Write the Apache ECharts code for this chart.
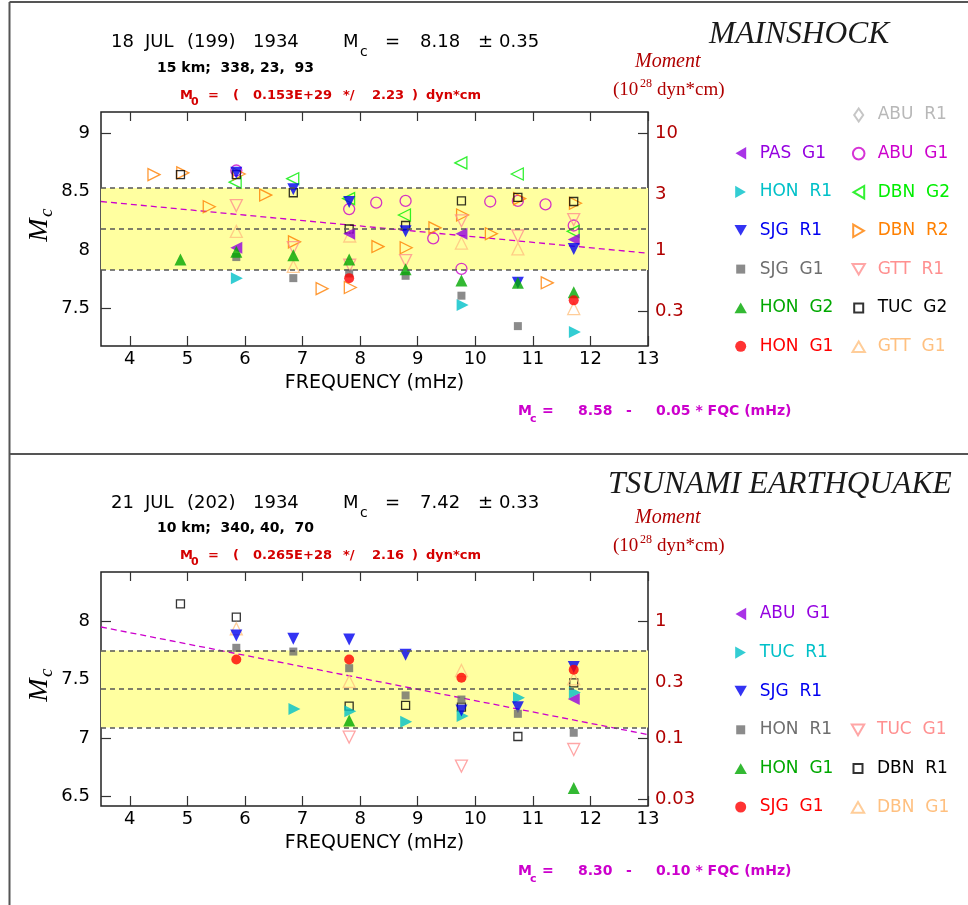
<!DOCTYPE html>
<html><head><meta charset="utf-8">
<script src="https://cdn.jsdelivr.net/npm/echarts@6/dist/echarts.min.js"></script>
<style>html,body{margin:0;padding:0;background:#fff}#c{width:968px;height:905px}</style>
</head><body><div id="c"></div>
<script>
// ---------------- DATA ----------------
const freqTicks = [4, 5, 6, 7, 8, 9, 10, 11, 12, 13];
const freqRange = [3.5, 13];

// Panel 1 : mainshock
const mainMcRange = [7.18, 9.18];
const mainMcTicks = [7.5, 8, 8.5, 9];
const mainMomentTicks = [10, 3, 1, 0.3];
const mainMomentLabels = ['10', '3', '1', '0.3'];
const mainMc = 8.18, mainSigma = 0.35;
const mainFitFreq = [3.5, 13];
const mainFitMc = [8.415, 7.973];

const main_ABU_R1 = [];
const main_PAS_G1 = [[5.85, 8.02], [7.81, 8.14], [9.76, 8.14], [11.71, 8.09]];
const main_HON_R1 = [[5.86, 7.76], [9.78, 7.53], [11.73, 7.30]];
const main_SJG_R1 = [[5.85, 8.66], [6.84, 8.52], [7.81, 8.41], [8.79, 8.16], [10.74, 7.72], [11.71, 8.01]];
const main_SJG_G1 = [[5.85, 7.94], [6.84, 7.76], [7.81, 7.80], [8.79, 7.78], [9.76, 7.61], [10.74, 7.35]];
const main_HON_G2 = [[4.88, 7.92], [5.85, 7.985], [6.84, 7.955], [7.81, 7.92], [8.79, 7.835], [9.76, 7.74], [10.74, 7.72], [11.71, 7.64]];
const main_HON_G1 = [[7.81, 7.76], [11.71, 7.57]];
const main_ABU_G1 = [[5.85, 8.68], [7.81, 8.35], [8.28, 8.405], [8.79, 8.42], [9.27, 8.10], [9.76, 7.84], [10.26, 8.415], [10.74, 8.42], [11.22, 8.39], [11.71, 8.21]];
const main_DBN_G2 = [[5.83, 8.58], [6.83, 8.61], [7.80, 8.44], [8.77, 8.30], [9.75, 8.745], [10.73, 8.65], [11.70, 8.16]];
const main_DBN_R2 = [[4.42, 8.645], [4.92, 8.66], [5.38, 8.37], [5.90, 8.65], [6.36, 8.47], [6.86, 8.07], [7.34, 7.67], [7.83, 7.68], [8.31, 8.03], [8.80, 8.02], [9.30, 8.19], [9.78, 8.30], [10.28, 8.14], [10.77, 8.44], [11.25, 7.72], [11.74, 8.40]];
const main_GTT_R1 = [[5.85, 8.38], [6.84, 8.02], [7.82, 7.87], [8.79, 7.91], [9.76, 8.25], [10.74, 8.12], [11.71, 8.26]];
const main_TUC_G2 = [[4.88, 8.645], [5.85, 8.645], [6.84, 8.49], [7.81, 8.18], [8.79, 8.21], [9.76, 8.42], [10.74, 8.45], [11.71, 8.415]];
const main_GTT_G1 = [[5.85, 8.16], [6.84, 7.86], [7.82, 8.12], [9.76, 8.06], [10.74, 8.01], [11.71, 7.50]];

// Panel 2 : tsunami earthquake
const tsuMcRange = [6.42, 8.42];
const tsuMcTicks = [6.5, 7, 7.5, 8];
const tsuMomentTicks = [1, 0.3, 0.1, 0.03];
const tsuMomentLabels = ['1', '0.3', '0.1', '0.03'];
const tsuMc = 7.42, tsuSigma = 0.33;
const tsuFitFreq = [3.5, 13];
const tsuFitMc = [7.95, 7.03];

const tsu_ABU_G1 = [[11.71, 7.335]];
const tsu_TUC_R1 = [[6.86, 7.25], [7.83, 7.23], [8.80, 7.14], [9.78, 7.19], [10.76, 7.345], [11.73, 7.39]];
const tsu_SJG_R1 = [[5.85, 7.877], [6.84, 7.849], [7.81, 7.843], [8.79, 7.712], [9.76, 7.236], [10.74, 7.265], [11.71, 7.607]];
const tsu_HON_R1 = [[5.85, 7.772], [6.84, 7.74], [7.81, 7.598], [8.79, 7.365], [9.76, 7.33], [10.74, 7.208], [11.71, 7.046]];
const tsu_HON_G1 = [[7.81, 7.151], [11.71, 6.573]];
const tsu_SJG_G1 = [[5.85, 7.672], [7.81, 7.672], [9.76, 7.516], [11.71, 7.584]];
const tsu_TUC_G1 = [[7.81, 7.009], [9.76, 6.761], [11.71, 6.903]];
const tsu_DBN_R1 = [[4.88, 8.148], [5.85, 8.035], [7.81, 7.274], [8.79, 7.28], [9.76, 7.265], [10.74, 7.014], [11.71, 7.473]];
const tsu_DBN_G1 = [[5.85, 7.935], [7.81, 7.484], [9.76, 7.578], [11.71, 7.507]];

// ---------------- STYLES ----------------
const C = {
  purple: '#9400e0', magenta: '#cc00cc', cyan: '#00c0c8', blue: '#0000f0', gray: '#6e6e6e',
  green: '#00a800', red: '#ff0000', lgray: '#b8b8b8', bgreen: '#00ee00', orange: '#ff8000',
  pink: '#ff9090', black: '#000000', lorange: '#ffc080'
};
const KIND = {
  left: {symbol: 'triangle', rot: 90, size: 12},
  right: {symbol: 'triangle', rot: -90, size: 12},
  down: {symbol: 'triangle', rot: 180, size: 12},
  up: {symbol: 'triangle', rot: 0, size: 12},
  square: {symbol: 'rect', rot: 0, size: 8},
  circle: {symbol: 'circle', rot: 0, size: 11},
  dot: {symbol: 'circle', rot: 0, size: 10},
  diamond: {symbol: 'diamond', rot: 0, size: [10, 14]}
};
// legend icons (padded 14x14 boxes so that every icon keeps its size and direction)
const ICON = {
  left: 'path://M0,0M12.5,0.8L12.5,13.2L1.8,7ZM14,14',
  right: 'path://M0,0M1.5,0.8L1.5,13.2L12.2,7ZM14,14',
  down: 'path://M0,0M0.8,1.5L13.2,1.5L7,12.2ZM14,14',
  up: 'path://M0,0M0.8,12.5L13.2,12.5L7,1.8ZM14,14',
  square: 'path://M0,0M2.5,2.5h9v9h-9zM14,14',
  circle: 'path://M0,0M1.2,7A5.8,5.8,0,1,1,12.8,7A5.8,5.8,0,1,1,1.2,7ZM14,14',
  dot: 'path://M0,0M1.5,7A5.5,5.5,0,1,1,12.5,7A5.5,5.5,0,1,1,1.5,7ZM14,14',
  diamond: 'path://M0,0M7,0.5L11.5,7L7,13.5L2.5,7ZM14,14'
};

// [name, data, kind, color, open]
const mainStations = [
  ['ABU  R1', main_ABU_R1, 'diamond', C.lgray, true],
  ['ABU  G1', main_ABU_G1, 'circle', C.magenta, true],
  ['DBN  G2', main_DBN_G2, 'left', C.bgreen, true],
  ['DBN  R2', main_DBN_R2, 'right', C.orange, true],
  ['GTT  R1', main_GTT_R1, 'down', C.pink, true],
  ['TUC  G2', main_TUC_G2, 'square', C.black, true],
  ['GTT  G1', main_GTT_G1, 'up', C.lorange, true],
  ['PAS  G1', main_PAS_G1, 'left', C.purple, false],
  ['HON  R1', main_HON_R1, 'right', C.cyan, false],
  ['SJG  R1', main_SJG_R1, 'down', C.blue, false],
  ['SJG  G1', main_SJG_G1, 'square', C.gray, false],
  ['HON  G2', main_HON_G2, 'up', C.green, false],
  ['HON  G1', main_HON_G1, 'dot', C.red, false]
];
const mainLegendCols = [
  ['PAS  G1', 'HON  R1', 'SJG  R1', 'SJG  G1', 'HON  G2', 'HON  G1'],
  ['ABU  R1', 'ABU  G1', 'DBN  G2', 'DBN  R2', 'GTT  R1', 'TUC  G2', 'GTT  G1']
];
const tsuStations = [
  ['TUC  G1', tsu_TUC_G1, 'down', C.pink, true],
  ['DBN  R1', tsu_DBN_R1, 'square', C.black, true],
  ['DBN  G1', tsu_DBN_G1, 'up', C.lorange, true],
  ['ABU  G1', tsu_ABU_G1, 'left', C.purple, false],
  ['TUC  R1', tsu_TUC_R1, 'right', C.cyan, false],
  ['SJG  R1', tsu_SJG_R1, 'down', C.blue, false],
  ['HON  R1', tsu_HON_R1, 'square', C.gray, false],
  ['HON  G1', tsu_HON_G1, 'up', C.green, false],
  ['SJG  G1', tsu_SJG_G1, 'dot', C.red, false]
];
const tsuLegendCols = [
  ['ABU  G1', 'TUC  R1', 'SJG  R1', 'HON  R1', 'HON  G1', 'SJG  G1'],
  ['TUC  G1', 'DBN  R1', 'DBN  G1']
];

const FONT = 'DejaVu Sans';
const grids = [
  {left: 101, top: 112, width: 547, height: 234},
  {left: 101, top: 572, width: 547, height: 234}
];

function scatterSeries(prefix, gi, st) {
  const [name, data, kind, color, open] = st;
  const k = KIND[kind];
  return {
    type: 'scatter', name: prefix + name, xAxisIndex: gi * 2, yAxisIndex: gi * 2, data: data,
    symbol: k.symbol, symbolRotate: k.rot, symbolSize: k.size, silent: true,
    emphasis: {disabled: true}, z: open ? 3 : 4,
    itemStyle: open ? {color: 'rgba(0,0,0,0)', borderColor: color, borderWidth: 1.3}
                    : {color: color, borderWidth: 0}
  };
}

function bandSeries(gi, mc, sigma, fitF, fitM) {
  return {
    type: 'line', name: 'fit' + gi, xAxisIndex: gi * 2, yAxisIndex: gi * 2,
    data: fitF.map((f, i) => [f, fitM[i]]), symbol: 'none', silent: true, z: 2,
    lineStyle: {color: '#cc00cc', width: 1.3, type: [6, 4]},
    emphasis: {disabled: true},
    markArea: {silent: true, itemStyle: {color: '#ffffa0'}, emphasis: {disabled: true},
      data: [[{yAxis: mc + sigma}, {yAxis: mc - sigma}]]},
    markLine: {silent: true, symbol: 'none', label: {show: false}, emphasis: {disabled: true},
      lineStyle: {color: '#555', width: 1.5, type: [5, 4]},
      data: [{yAxis: mc + sigma}, {yAxis: mc}, {yAxis: mc - sigma}]}
  };
}

function xAxes(gi) {
  return [
    {gridIndex: gi, type: 'value', min: freqRange[0], max: freqRange[1], position: 'bottom',
     axisLine: {show: false}, splitLine: {show: false},
     axisTick: {show: true, inside: true, length: 10, customValues: freqTicks, lineStyle: {color: '#333', width: 1.2}},
     axisLabel: {customValues: freqTicks, fontSize: 18, color: '#000', margin: 4, fontFamily: FONT},
     name: 'FREQUENCY (mHz)', nameLocation: 'middle', nameGap: 28,
     nameTextStyle: {fontSize: 19, color: '#000', fontFamily: FONT}},
    {gridIndex: gi, type: 'value', min: freqRange[0], max: freqRange[1], position: 'top',
     axisLine: {show: false}, splitLine: {show: false},
     axisTick: {show: true, inside: true, length: 9, customValues: freqTicks, lineStyle: {color: '#333', width: 1.2}},
     axisLabel: {show: false}}
  ];
}

function yAxes(gi, range, ticks, momentVals, momentLabels) {
  const pos = momentVals.map(v => Math.log10(v) + 8); // Mc = log10(M0) - 20
  return [
    {gridIndex: gi, type: 'value', min: range[0], max: range[1], position: 'left',
     axisLine: {show: false}, splitLine: {show: false},
     axisTick: {show: true, inside: true, length: 10, customValues: ticks, lineStyle: {color: '#333', width: 1.2}},
     axisLabel: {customValues: ticks, fontSize: 18, color: '#000', margin: 11, fontFamily: FONT}},
    {gridIndex: gi, type: 'value', min: range[0], max: range[1], position: 'right',
     axisLine: {show: false}, splitLine: {show: false},
     axisTick: {show: true, inside: true, length: 10, customValues: pos, lineStyle: {color: '#333', width: 1.2}},
     axisLabel: {customValues: pos, fontSize: 18, color: '#b00000', margin: 7, fontFamily: FONT,
       formatter: v => { const i = pos.findIndex(p => Math.abs(p - v) < 1e-6); return i >= 0 ? momentLabels[i] : ''; }}}
  ];
}

function legends(prefix, stations, cols, lefts, tops) {
  return cols.map((names, ci) => ({
    orient: 'vertical', left: lefts[ci], top: tops[ci], padding: 0,
    itemGap: 18.6, itemWidth: 28, itemHeight: 14, selectedMode: false,
    formatter: n => n.slice(prefix.length),
    textStyle: {fontFamily: FONT, fontSize: 17, lineHeight: 20},
    data: names.map(n => {
      const st = stations.find(s => s[0] === n);
      return {name: prefix + n, textStyle: {color: st[3]}, icon: ICON[st[2]]};
    })
  }));
}

// ---------------- GRAPHIC TEXT ----------------
function T(x, y, text, font, color, align) {
  align = align || 'left';
  return {type: 'text', x: x, y: y, silent: true, z: 10,
    style: {text: text, font: font, fill: color || '#000', align: align, verticalAlign: 'middle',
            textAlign: align, textVerticalAlign: 'middle'}};
}
const F18 = '18px "DejaVu Sans"';
const B13 = 'bold 13px "DejaVu Sans"';
const B14 = 'bold 14px "DejaVu Sans"';
const SERIF = '"Liberation Serif"';
const RED = '#d40000', DRED = '#b00000', MAG = '#cc00cc';

function headerTexts(h) {
  const dateX = [111, 145, 187, 253];
  return h.date.map((p, i) => T(dateX[i], h.dateY, p, F18, '#000')).concat([
    T(343, h.dateY, 'M', F18, '#000'),
    T(360, h.dateY + 10, 'c', '14px "DejaVu Sans"', '#000'),
    T(385, h.dateY, '=', F18, '#000'),
    T(420, h.dateY, h.mc, F18, '#000'),
    T(478, h.dateY, '±', F18, '#000'),
    T(499, h.dateY, h.sig, F18, '#000'),
    T(157, h.depthY, h.depth, B14, '#000'),
    T(180, h.m0Y, 'M', B13, RED),
    T(191, h.m0Y + 6, '0', 'bold 11px "DejaVu Sans"', RED),
    T(208, h.m0Y, '=', B13, RED),
    T(233, h.m0Y, '(', B13, RED),
    T(253, h.m0Y, h.m0, B13, RED),
    T(343, h.m0Y, '*/', B13, RED),
    T(372, h.m0Y, h.m0err, B13, RED),
    T(412, h.m0Y, ')', B13, RED),
    T(426, h.m0Y, 'dyn*cm', B13, RED),
    T(h.titleX, h.titleY, h.title, 'italic 31.5px ' + SERIF, '#1a1a1a'),
    T(635, h.momY, 'Moment', 'italic 20px ' + SERIF, DRED),
    T(613, h.momY + 28.5, '(10', '19px ' + SERIF, DRED),
    T(640, h.momY + 21.5, '28', '12px ' + SERIF, DRED),
    T(657, h.momY + 28.5, 'dyn*cm)', '19px ' + SERIF, DRED),
    T(518, h.fitY, 'M', B14, MAG),
    T(530, h.fitY + 8, 'c', 'bold 11px "DejaVu Sans"', MAG),
    T(542, h.fitY, '=', B14, MAG),
    T(578, h.fitY, h.fitA, B14, MAG),
    T(626, h.fitY, '-', B14, MAG),
    T(656, h.fitY, h.fitB + ' * FQC (mHz)', B14, MAG),
    {type: 'group', x: 40, y: h.ylabY, rotation: Math.PI / 2, silent: true, children: [
      T(0, 0, 'M', 'italic 28px ' + SERIF, '#000', 'center'),
      T(13, 7, 'c', 'italic 19px ' + SERIF, '#000', 'left')
    ]}
  ]);
}

const frameLines = [
  {type: 'line', silent: true, shape: {x1: 9.5, y1: 2, x2: 968, y2: 2}, style: {stroke: '#555', lineWidth: 2}},
  {type: 'line', silent: true, shape: {x1: 9.5, y1: 2, x2: 9.5, y2: 905}, style: {stroke: '#555', lineWidth: 2}},
  {type: 'line', silent: true, shape: {x1: 9.5, y1: 454, x2: 968, y2: 454}, style: {stroke: '#555', lineWidth: 2}}
];

const graphics = frameLines
  .concat(headerTexts({date: ['18', 'JUL', '(199)', '1934'], mc: '8.18', sig: '0.35', depth: '15 km;  338, 23,  93',
    m0: '0.153E+29', m0err: '2.23', title: 'MAINSHOCK', titleX: 709, titleY: 35,
    dateY: 42, depthY: 68, m0Y: 96, momY: 62, fitY: 411, fitA: '8.58', fitB: '0.05', ylabY: 230}))
  .concat(headerTexts({date: ['21', 'JUL', '(202)', '1934'], mc: '7.42', sig: '0.33', depth: '10 km;  340, 40,  70',
    m0: '0.265E+28', m0err: '2.16', title: 'TSUNAMI EARTHQUAKE', titleX: 608, titleY: 485,
    dateY: 503, depthY: 528, m0Y: 556, momY: 518, fitY: 871, fitA: '8.30', fitB: '0.10', ylabY: 690}));

// ---------------- OPTION ----------------
const option = {
  animation: false,
  backgroundColor: '#fff',
  textStyle: {fontFamily: FONT},
  grid: grids.map(g => Object.assign({show: true, borderColor: '#222', borderWidth: 1.5,
    backgroundColor: 'rgba(0,0,0,0)', containLabel: false, outerBoundsMode: 'none'}, g)),
  xAxis: xAxes(0).concat(xAxes(1)),
  yAxis: yAxes(0, mainMcRange, mainMcTicks, mainMomentTicks, mainMomentLabels)
    .concat(yAxes(1, tsuMcRange, tsuMcTicks, tsuMomentTicks, tsuMomentLabels)),
  legend: legends('t:', mainStations, mainLegendCols, [733.7, 850.7], [143.3, 105])
    .concat(legends('b:', tsuStations, tsuLegendCols, [733.7, 850], [604, 720])),
  tooltip: {show: false},
  series: [bandSeries(0, mainMc, mainSigma, mainFitFreq, mainFitMc)]
    .concat(mainStations.map(s => scatterSeries('t:', 0, s)))
    .concat([bandSeries(1, tsuMc, tsuSigma, tsuFitFreq, tsuFitMc)])
    .concat(tsuStations.map(s => scatterSeries('b:', 1, s))),
  graphic: {elements: graphics}
};

const chart = echarts.init(document.getElementById('c'), null, {renderer: 'canvas'});
chart.setOption(option);
</script>
</body></html>
